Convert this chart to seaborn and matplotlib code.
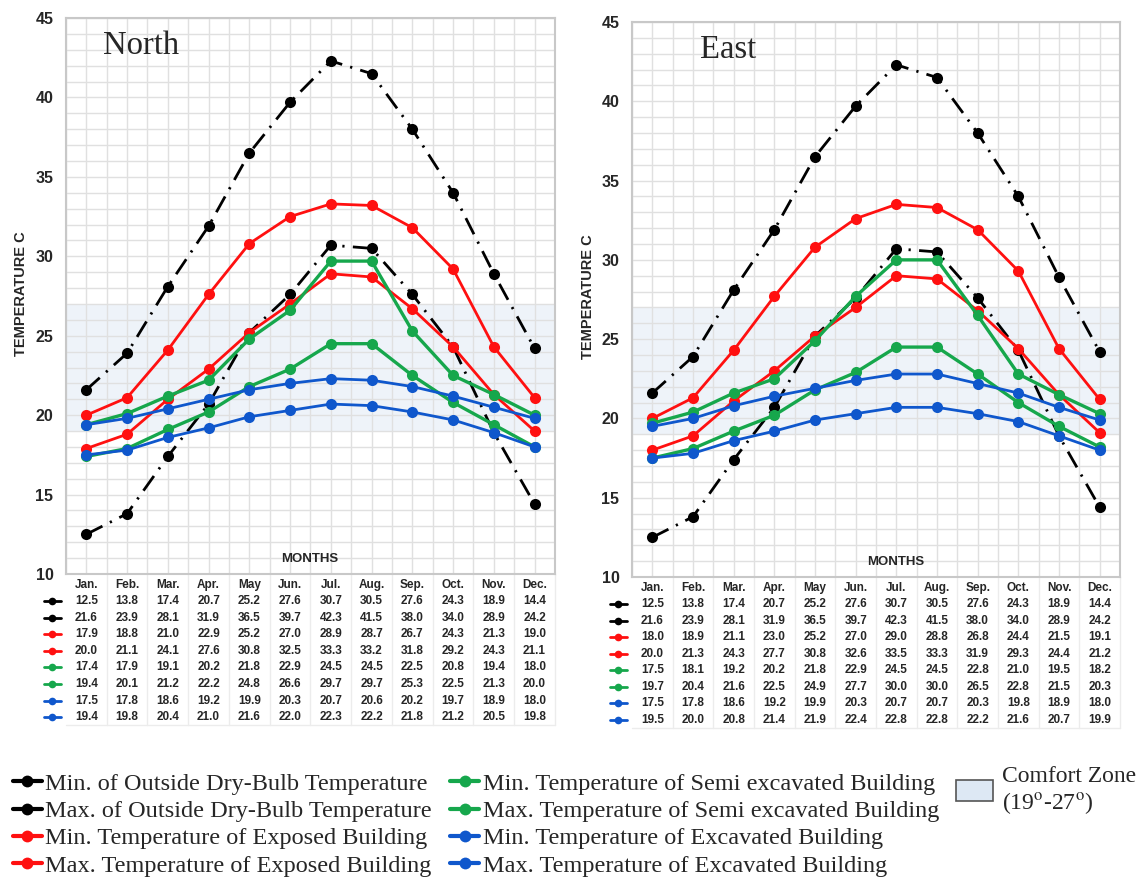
import numpy as np
import pandas as pd
import seaborn as sns
import matplotlib
matplotlib.use("Agg")
import matplotlib.pyplot as plt
from matplotlib.lines import Line2D
from matplotlib.patches import Patch
from matplotlib.transforms import blended_transform_factory

months = ["Jan.", "Feb.", "Mar.", "Apr.", "May", "Jun.", "Jul.", "Aug.", "Sep.", "Oct.", "Nov.", "Dec."]

series_labels = [
    "Min. of Outside Dry-Bulb Temperature",
    "Max. of Outside Dry-Bulb Temperature",
    "Min. Temperature of Exposed Building",
    "Max. Temperature of Exposed Building",
    "Min. Temperature of Semi excavated Building",
    "Max. Temperature of Semi excavated Building",
    "Min. Temperature of Excavated Building",
    "Max. Temperature of Excavated Building",
]

# North
north_min_outside = [12.5, 13.8, 17.4, 20.7, 25.2, 27.6, 30.7, 30.5, 27.6, 24.3, 18.9, 14.4]
north_max_outside = [21.6, 23.9, 28.1, 31.9, 36.5, 39.7, 42.3, 41.5, 38.0, 34.0, 28.9, 24.2]
north_min_exposed = [17.9, 18.8, 21.0, 22.9, 25.2, 27.0, 28.9, 28.7, 26.7, 24.3, 21.3, 19.0]
north_max_exposed = [20.0, 21.1, 24.1, 27.6, 30.8, 32.5, 33.3, 33.2, 31.8, 29.2, 24.3, 21.1]
north_min_semi = [17.4, 17.9, 19.1, 20.2, 21.8, 22.9, 24.5, 24.5, 22.5, 20.8, 19.4, 18.0]
north_max_semi = [19.4, 20.1, 21.2, 22.2, 24.8, 26.6, 29.7, 29.7, 25.3, 22.5, 21.3, 20.0]
north_min_excav = [17.5, 17.8, 18.6, 19.2, 19.9, 20.3, 20.7, 20.6, 20.2, 19.7, 18.9, 18.0]
north_max_excav = [19.4, 19.8, 20.4, 21.0, 21.6, 22.0, 22.3, 22.2, 21.8, 21.2, 20.5, 19.8]

# East
east_min_outside = [12.5, 13.8, 17.4, 20.7, 25.2, 27.6, 30.7, 30.5, 27.6, 24.3, 18.9, 14.4]
east_max_outside = [21.6, 23.9, 28.1, 31.9, 36.5, 39.7, 42.3, 41.5, 38.0, 34.0, 28.9, 24.2]
east_min_exposed = [18.0, 18.9, 21.1, 23.0, 25.2, 27.0, 29.0, 28.8, 26.8, 24.4, 21.5, 19.1]
east_max_exposed = [20.0, 21.3, 24.3, 27.7, 30.8, 32.6, 33.5, 33.3, 31.9, 29.3, 24.4, 21.2]
east_min_semi = [17.5, 18.1, 19.2, 20.2, 21.8, 22.9, 24.5, 24.5, 22.8, 21.0, 19.5, 18.2]
east_max_semi = [19.7, 20.4, 21.6, 22.5, 24.9, 27.7, 30.0, 30.0, 26.5, 22.8, 21.5, 20.3]
east_min_excav = [17.5, 17.8, 18.6, 19.2, 19.9, 20.3, 20.7, 20.7, 20.3, 19.8, 18.9, 18.0]
east_max_excav = [19.5, 20.0, 20.8, 21.4, 21.9, 22.4, 22.8, 22.8, 22.2, 21.6, 20.7, 19.9]

comfort_low, comfort_high = 19, 27
yticks = [10, 15, 20, 25, 30, 35, 40, 45]

north = [north_min_outside, north_max_outside, north_min_exposed, north_max_exposed,
         north_min_semi, north_max_semi, north_min_excav, north_max_excav]
east = [east_min_outside, east_max_outside, east_min_exposed, east_max_exposed,
        east_min_semi, east_max_semi, east_min_excav, east_max_excav]

BLACK, RED, GREEN, BLUE = "#000000", "#ff1010", "#16a74c", "#0f57cc"
colors = [BLACK, BLACK, RED, RED, GREEN, GREEN, BLUE, BLUE]
dashdot = (0, (6.5, 3, 0.8, 3))
styles = [dashdot, dashdot, "-", "-", "-", "-", "-", "-"]
widths = [2.0, 2.0, 2.0, 2.0, 2.4, 2.4, 2.0, 2.0]

sns.set_theme(style="white")
plt.rcParams["font.family"] = ["Liberation Sans", "DejaVu Sans"]
plt.rcParams["mathtext.fontset"] = "stix"

fig = plt.figure(figsize=(11.41, 8.8), dpi=100)
ax_n = fig.add_axes([0.0578, 0.3477, 0.4286, 0.6318])
ax_e = fig.add_axes([0.5539, 0.3443, 0.4277, 0.6307])

x = np.arange(len(months))


def draw_panel(ax, data, title, title_x, months_x, ylab_x):
    ax.set_xlim(-0.5, 11.5)
    ax.set_ylim(10, 45)
    ax.axhspan(comfort_low, comfort_high, color="#eef3f9", zorder=0, lw=0)
    for yv in range(10, 46):
        ax.axhline(yv, color="#e0e0e0", lw=1, zorder=0.5)
    for xv in np.arange(-0.5, 11.6, 0.5):
        ax.axvline(xv, color="#e0e0e0", lw=1, zorder=0.5)
    ax.grid(False)
    for vals, c, ls, lw in zip(data, colors, styles, widths):
        df = pd.DataFrame({"m": x, "t": vals})
        sns.lineplot(data=df, x="m", y="t", ax=ax, color=c, linestyle=ls, linewidth=lw,
                     marker="o", markersize=8, markeredgewidth=0, zorder=3)
    ax.set_xticks([])
    ax.set_yticks(yticks)
    ax.set_yticklabels([str(v) for v in yticks], fontsize=11.5, fontweight="bold")
    ax.tick_params(axis="y", length=0, pad=9)
    ax.set_xlabel("")
    ax.set_ylabel("TEMPERATURE C", fontsize=10.5, fontweight="bold")
    ax.yaxis.set_label_coords(ylab_x, 0.505)
    for sp in ax.spines.values():
        sp.set_color("#c8c8c8")
        sp.set_linewidth(1.5)
    ax.text(title_x, 0.95, title, transform=ax.transAxes, fontsize=23.5,
            family="Liberation Serif", va="center", ha="left")
    ax.text(months_x, 0.027, "MONTHS", transform=ax.transAxes, fontsize=9.5,
            fontweight="bold", ha="center", va="center")

    # data table below the axes
    tr = blended_transform_factory(ax.transData, ax.transAxes)
    row_h = 0.0298
    y0 = -0.019
    for i, m in enumerate(months):
        ax.text(i, y0, m, transform=tr, ha="center", va="center", fontsize=8.5,
                fontweight="bold", clip_on=False)
    for r, (vals, c) in enumerate(zip(data, colors)):
        yy = y0 - (r + 1) * row_h
        for i, v in enumerate(vals):
            ax.text(i, yy, f"{v:.1f}", transform=tr, ha="center", va="center",
                    fontsize=8.5, fontweight="bold", clip_on=False)
        ax.add_line(Line2D([-0.045, -0.01], [yy, yy], transform=ax.transAxes, color=c,
                           lw=2, clip_on=False))
        ax.add_line(Line2D([-0.028], [yy], transform=ax.transAxes, color=c,
                           marker="o", markersize=5.5, markeredgewidth=0, clip_on=False))
    bottom = y0 - 8.5 * row_h
    for xv in np.arange(0.5, 11.6, 1.0):
        ax.add_line(Line2D([xv, xv], [0, bottom], transform=tr, color="#ececec",
                           lw=1, clip_on=False, zorder=0))
    ax.add_line(Line2D([-0.5, 11.5], [bottom, bottom], transform=tr, color="#ececec",
                       lw=1, clip_on=False, zorder=0))


draw_panel(ax_n, north, "North", 0.076, 0.499, -0.078)
draw_panel(ax_e, east, "East", 0.139, 0.541, -0.076)

# legend
handles = [Line2D([0], [0], color=c, lw=3, marker="o", markersize=8.5, markeredgewidth=0)
           for c in colors]
fig.legend(handles, series_labels, ncol=2, loc="upper left",
           bbox_to_anchor=(0.011, 0.122), frameon=False,
           prop={"family": "Liberation Serif", "size": 17.5},
           handlelength=1.2, handletextpad=0.15, columnspacing=0.75,
           labelspacing=0.22, borderaxespad=0, borderpad=0)
cz = [Patch(facecolor="#dde8f4", edgecolor="#555555", lw=1.2)]
fig.legend(cz, ["Comfort Zone\n(19$^{\\mathrm{o}}$-27$^{\\mathrm{o}}$)"], loc="upper left",
           bbox_to_anchor=(0.838, 0.130), frameon=False,
           prop={"family": "Liberation Serif", "size": 17},
           handlelength=1.55, handleheight=1.0, handletextpad=0.4,
           borderaxespad=0, borderpad=0)

fig.savefig("out.png", dpi=100)
